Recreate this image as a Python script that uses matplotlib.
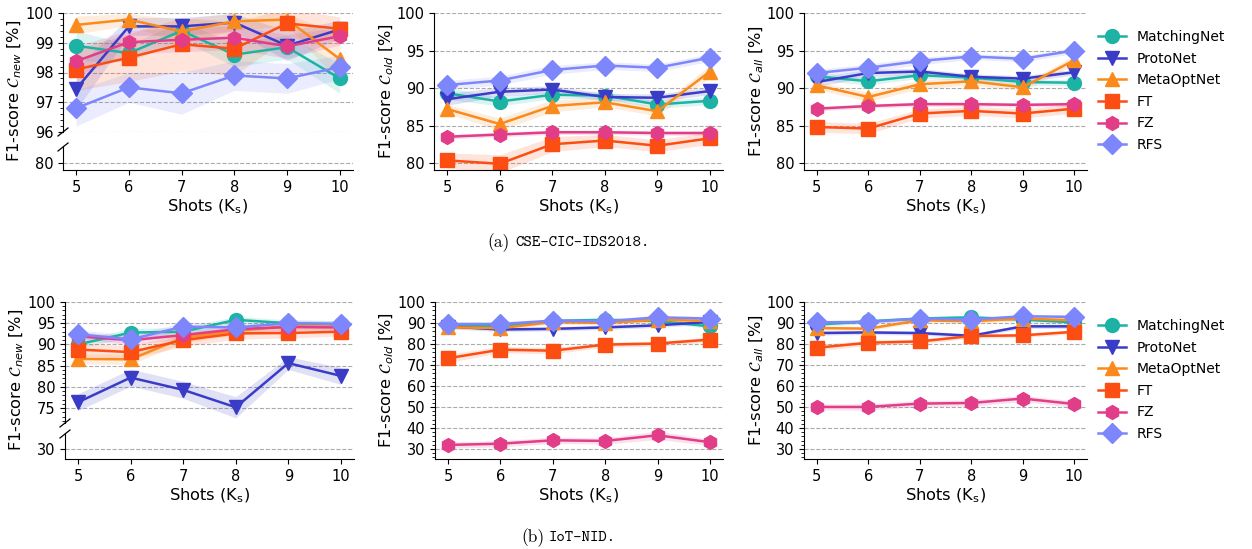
import os
import numpy as np
import matplotlib
matplotlib.use("Agg")
import matplotlib as mpl
import matplotlib.pyplot as plt
from matplotlib.ticker import AutoMinorLocator, FixedLocator
from matplotlib.font_manager import FontProperties
from matplotlib.lines import Line2D

# ---------------- data ----------------
shots = [5, 6, 7, 8, 9, 10]
methods = ["MatchingNet", "ProtoNet", "MetaOptNet", "FT", "FZ", "RFS"]

# CSE-CIC-IDS2018, C_new
cse_new = {
    "MatchingNet": [98.9, 98.65, 99.4, 98.6, 98.85, 97.8],
    "ProtoNet":    [97.45, 99.55, 99.55, 99.68, 98.9, 99.45],
    "MetaOptNet":  [99.6, 99.78, 99.38, 99.72, 99.78, 98.45],
    "FT":          [98.1, 98.5, 98.95, 98.8, 99.65, 99.47],
    "FZ":          [98.38, 99.02, 99.1, 99.17, 98.88, 99.22],
    "RFS":         [96.8, 97.5, 97.3, 97.9, 97.8, 98.18],
}
cse_new_std = {
    "MatchingNet": [0.5, 0.3, 0.3, 0.4, 0.4, 0.5],
    "ProtoNet":    [0.7, 0.3, 0.3, 0.3, 0.5, 0.3],
    "MetaOptNet":  [0.3, 0.2, 0.4, 0.3, 0.2, 0.8],
    "FT":          [0.7, 0.8, 0.9, 0.9, 0.5, 0.4],
    "FZ":          [0.5, 0.4, 0.4, 0.4, 0.4, 0.3],
    "RFS":         [0.6, 0.5, 0.7, 0.5, 0.5, 0.4],
}
# CSE-CIC-IDS2018, C_old
cse_old = {
    "MatchingNet": [89.3, 88.2, 89.1, 89.0, 87.8, 88.3],
    "ProtoNet":    [88.5, 89.5, 89.8, 88.8, 88.7, 89.6],
    "MetaOptNet":  [87.2, 85.2, 87.6, 88.1, 86.9, 92.2],
    "FT":          [80.35, 79.9, 82.5, 83.0, 82.3, 83.3],
    "FZ":          [83.5, 83.8, 84.1, 84.1, 84.0, 84.0],
    "RFS":         [90.4, 91.0, 92.4, 93.0, 92.7, 94.05],
}
cse_old_std = {
    "MatchingNet": [0.8, 0.6, 0.5, 0.5, 0.5, 0.5],
    "ProtoNet":    [0.8, 0.6, 0.5, 0.5, 0.5, 0.5],
    "MetaOptNet":  [0.6, 0.8, 0.8, 0.6, 0.6, 0.8],
    "FT":          [1.0, 1.2, 1.0, 0.8, 0.8, 0.8],
    "FZ":          [0.3, 0.3, 0.3, 0.3, 0.3, 0.3],
    "RFS":         [0.6, 0.6, 0.6, 0.5, 0.5, 0.5],
}
# CSE-CIC-IDS2018, C_all
cse_all = {
    "MatchingNet": [91.55, 90.9, 91.7, 91.4, 90.8, 90.7],
    "ProtoNet":    [90.8, 92.0, 92.2, 91.5, 91.25, 92.1],
    "MetaOptNet":  [90.35, 88.8, 90.5, 90.9, 90.1, 93.7],
    "FT":          [84.8, 84.6, 86.6, 86.95, 86.6, 87.25],
    "FZ":          [87.25, 87.6, 87.85, 87.85, 87.75, 87.85],
    "RFS":         [92.0, 92.7, 93.6, 94.2, 93.9, 95.0],
}
cse_all_std = {
    "MatchingNet": [0.5, 0.5, 0.4, 0.4, 0.4, 0.4],
    "ProtoNet":    [0.6, 0.5, 0.4, 0.4, 0.4, 0.4],
    "MetaOptNet":  [0.5, 0.6, 0.6, 0.5, 0.5, 0.6],
    "FT":          [0.7, 0.7, 0.6, 0.6, 0.6, 0.6],
    "FZ":          [0.3, 0.3, 0.3, 0.3, 0.3, 0.3],
    "RFS":         [0.5, 0.5, 0.5, 0.4, 0.4, 0.4],
}
# IoT-NID, C_new
iot_new = {
    "MatchingNet": [90.0, 92.8, 93.0, 95.8, 95.0, 94.8],
    "ProtoNet":    [76.4, 82.2, 79.3, 75.2, 85.6, 82.6],
    "MetaOptNet":  [86.6, 86.5, 91.6, 93.2, 94.3, 94.2],
    "FT":          [88.8, 88.2, 91.0, 92.6, 92.7, 93.0],
    "FZ":          [91.9, 91.0, 92.2, 93.6, 94.1, 94.0],
    "RFS":         [92.4, 91.2, 94.2, 94.0, 95.0, 94.8],
}
iot_new_std = {
    "MatchingNet": [1.0, 1.0, 1.0, 0.8, 0.8, 0.8],
    "ProtoNet":    [2.0, 2.0, 2.0, 2.5, 1.5, 2.0],
    "MetaOptNet":  [1.2, 1.2, 1.2, 1.0, 0.8, 0.8],
    "FT":          [1.5, 1.5, 1.5, 1.3, 1.2, 1.0],
    "FZ":          [1.0, 1.0, 1.0, 0.8, 0.8, 0.8],
    "RFS":         [1.0, 1.0, 1.0, 0.8, 0.8, 0.8],
}
# IoT-NID, C_old
iot_old = {
    "MatchingNet": [89.0, 88.5, 91.0, 91.5, 91.0, 88.4],
    "ProtoNet":    [88.3, 86.9, 87.2, 87.9, 88.9, 90.5],
    "MetaOptNet":  [88.0, 87.5, 90.5, 90.0, 91.5, 91.0],
    "FT":          [73.2, 77.3, 76.8, 79.7, 80.2, 82.1],
    "FZ":          [31.9, 32.5, 34.1, 33.8, 36.5, 33.2],
    "RFS":         [89.5, 89.5, 91.1, 90.8, 92.7, 92.1],
}
iot_old_std = {
    "MatchingNet": [1.0, 1.0, 1.0, 1.0, 1.0, 1.0],
    "ProtoNet":    [1.0, 1.0, 1.0, 1.0, 1.0, 1.0],
    "MetaOptNet":  [1.0, 1.0, 1.0, 1.0, 1.0, 1.0],
    "FT":          [2.0, 1.5, 1.5, 1.2, 1.2, 1.2],
    "FZ":          [1.5, 1.5, 1.5, 1.5, 2.0, 1.5],
    "RFS":         [1.0, 1.0, 1.0, 1.0, 1.0, 1.0],
}
# IoT-NID, C_all
iot_all = {
    "MatchingNet": [89.2, 90.8, 92.1, 92.7, 91.6, 90.3],
    "ProtoNet":    [85.2, 85.5, 85.2, 83.9, 88.4, 88.4],
    "MetaOptNet":  [87.6, 87.3, 91.3, 90.8, 92.1, 91.3],
    "FT":          [78.2, 80.6, 81.2, 83.8, 84.1, 85.8],
    "FZ":          [50.0, 50.0, 51.6, 51.9, 54.0, 51.4],
    "RFS":         [90.3, 90.5, 92.1, 91.6, 93.2, 92.9],
}
iot_all_std = {
    "MatchingNet": [1.0, 1.0, 1.0, 1.0, 1.0, 1.0],
    "ProtoNet":    [1.0, 1.0, 1.0, 1.0, 1.0, 1.0],
    "MetaOptNet":  [1.0, 1.0, 1.0, 1.0, 1.0, 1.0],
    "FT":          [1.5, 1.2, 1.2, 1.0, 1.0, 1.0],
    "FZ":          [1.5, 1.5, 1.5, 1.5, 1.5, 1.5],
    "RFS":         [1.0, 1.0, 1.0, 1.0, 1.0, 1.0],
}

# ---------------- style ----------------
colors = {
    "MatchingNet": "#1db3a4",
    "ProtoNet": "#3a3cc8",
    "MetaOptNet": "#fb8a1c",
    "FT": "#fc4d12",
    "FZ": "#e13d88",
    "RFS": "#7e86fb",
}
markers = {"MatchingNet": "o", "ProtoNet": "v", "MetaOptNet": "^",
           "FT": "s", "FZ": "h", "RFS": "D"}

W, H = 1252, 549
fig = plt.figure(figsize=(W / 100, H / 100), dpi=100)

TICK_FS = 10.5
LABEL_FS = 11.7


def rect(l, t, r, b):
    return [l / W, 1 - b / H, (r - l) / W, (b - t) / H]


def draw(ax, means, stds):
    for m in methods:
        mu = np.array(means[m])
        sd = np.array(stds[m])
        ax.fill_between(shots, mu - sd, mu + sd, color=colors[m], alpha=0.15, lw=0)
        ax.plot(shots, mu, color=colors[m], marker=markers[m], ms=10, lw=1.8,
                label=m)


def style(ax, yticks, ylim, minor=False, xaxis=True):
    for s in ("top", "right"):
        ax.spines[s].set_visible(False)
    ax.set_axisbelow(True)
    ax.grid(axis="y", ls="--", color="#ababab", lw=0.8)
    ax.set_xlim(4.75, 10.25)
    ax.set_ylim(*ylim)
    ax.yaxis.set_major_locator(FixedLocator(yticks))
    if minor:
        ax.yaxis.set_minor_locator(AutoMinorLocator())
    ax.tick_params(labelsize=TICK_FS)
    ax.tick_params(which="minor", length=2)
    if xaxis:
        ax.set_xticks(shots)
        ax.set_xlabel("Shots (K$_\\mathrm{s}$)", fontsize=LABEL_FS, labelpad=2)
    else:
        ax.spines["bottom"].set_visible(False)
        ax.set_xticks([])


def break_marks(xl, ytop_part_bottom, ybot_part_top):
    for yc in (ytop_part_bottom, ybot_part_top):
        fig.add_artist(Line2D([(xl - 5) / W, (xl + 5) / W],
                              [1 - (yc + 4) / H, 1 - (yc - 4) / H],
                              color="k", lw=0.9))


def ylabel(x, y, sub):
    fig.text(x / W, 1 - y / H, "F1-score $\\mathcal{C}_{%s}$ [%%]" % sub,
             rotation=90, ha="center", va="center", fontsize=LABEL_FS)


def legend(yc, ax):
    h, l = ax.get_legend_handles_labels()
    fig.legend(h, l, loc="center left", bbox_to_anchor=(1098 / W, 1 - yc / H),
               frameon=False, fontsize=10, handlelength=2.0, handletextpad=0.8,
               labelspacing=0.55, borderpad=0, borderaxespad=0)


# ---------------- row 1: CSE-CIC-IDS2018 ----------------
a_top = fig.add_axes(rect(63, 13, 353, 132))
draw(a_top, cse_new, cse_new_std)
style(a_top, [96, 97, 98, 99, 100], (96, 100), minor=True, xaxis=False)
a_bot = fig.add_axes(rect(63, 146, 353, 170))
draw(a_bot, cse_new, cse_new_std)
style(a_bot, [80], (79.5, 81.2))
break_marks(63, 132, 147)
ylabel(15, 91, "new")

a2 = fig.add_axes(rect(434, 13, 723, 170))
draw(a2, cse_old, cse_old_std)
style(a2, [80, 85, 90, 95, 100], (79.07, 100))
ylabel(387, 91, "old")

a3 = fig.add_axes(rect(804, 13, 1087, 170))
draw(a3, cse_all, cse_all_std)
style(a3, [80, 85, 90, 95, 100], (79.07, 100))
ylabel(757, 91, "all")
legend(91, a3)

# ---------------- row 2: IoT-NID ----------------
b_top = fig.add_axes(rect(65, 302, 354, 423))
draw(b_top, iot_new, iot_new_std)
style(b_top, [75, 80, 85, 90, 95, 100], (71.5, 100), minor=True, xaxis=False)
b_bot = fig.add_axes(rect(65, 433, 354, 459))
draw(b_bot, iot_new, iot_new_std)
style(b_bot, [30], (26.0, 36.4), minor=True)
break_marks(65, 423, 434)
ylabel(17, 380, "new")

b2 = fig.add_axes(rect(435, 302, 723, 459))
draw(b2, iot_old, iot_old_std)
style(b2, [30, 40, 50, 60, 70, 80, 90, 100], (25.2, 100), minor=True)
ylabel(387, 380, "old")

b3 = fig.add_axes(rect(804, 302, 1087, 459))
draw(b3, iot_all, iot_all_std)
style(b3, [30, 40, 50, 60, 70, 80, 90, 100], (25.2, 100), minor=True)
ylabel(757, 380, "all")
legend(380, b3)

# ---------------- captions ----------------
fdir = os.path.join(mpl.get_data_path(), "fonts", "ttf")
rm = FontProperties(fname=os.path.join(fdir, "cmr10.ttf"), size=12.5)
tt = FontProperties(fname=os.path.join(fdir, "cmtt10.ttf"), size=11.5)
fig.text(487 / W, 1 - 243 / H, "(a)", fontproperties=rm, ha="left", va="center")
fig.text(515 / W, 1 - 243 / H, "CSE-CIC-IDS2018.", fontproperties=tt,
         ha="left", va="center")
fig.text(521 / W, 1 - 538 / H, "(b)", fontproperties=rm, ha="left", va="center")
fig.text(549 / W, 1 - 538 / H, "IoT-NID.", fontproperties=tt,
         ha="left", va="center")

fig.savefig("out.png", dpi=100)
